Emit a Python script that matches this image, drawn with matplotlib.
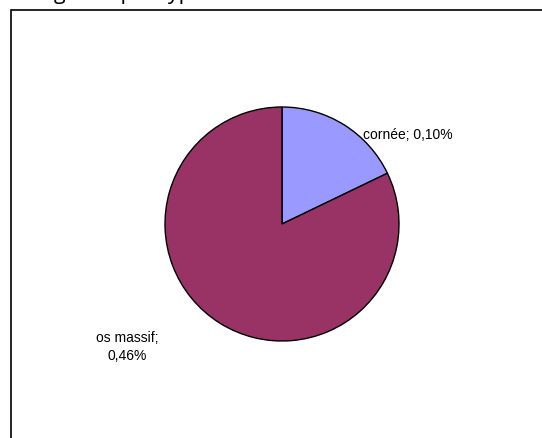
import matplotlib.pyplot as plt
from matplotlib.patches import Rectangle

labels = ['cornée', 'os massif']
values = [0.10, 0.46]
value_text = ['0,10%', '0,46%']
colors = ['#9999FF', '#993366']

fig = plt.figure(figsize=(5.42, 4.39), dpi=100)
ax = fig.add_axes([0, 0, 1, 1])

# pixel-like coordinates, y up
ax.pie(values, colors=colors, startangle=90, counterclock=False,
       center=(282, 214), radius=117,
       wedgeprops=dict(edgecolor='black', linewidth=1.0))
ax.set_xlim(0, 542)
ax.set_ylim(0, 439)
ax.set_aspect('auto')
ax.axis('off')

# chart area frame (runs past the right and bottom edges)
ax.add_patch(Rectangle((10.5, -20), 560, 448.5, fill=False,
                       edgecolor='black', linewidth=1.2, clip_on=False))

# title, mostly cut off above the image
ax.text(-3, 440, 'Ratio global par type', fontsize=15.5, family='Open Sans',
        ha='left', va='baseline', clip_on=False)

ax.text(408, 304, f'{labels[0]}; {value_text[0]}', fontsize=10,
        family='Liberation Sans', ha='center', va='center')
ax.text(127, 92, f'{labels[1]};\n{value_text[1]}', fontsize=10,
        family='Liberation Sans', ha='center', va='center', linespacing=1.45)

fig.savefig('out.png', dpi=100)
